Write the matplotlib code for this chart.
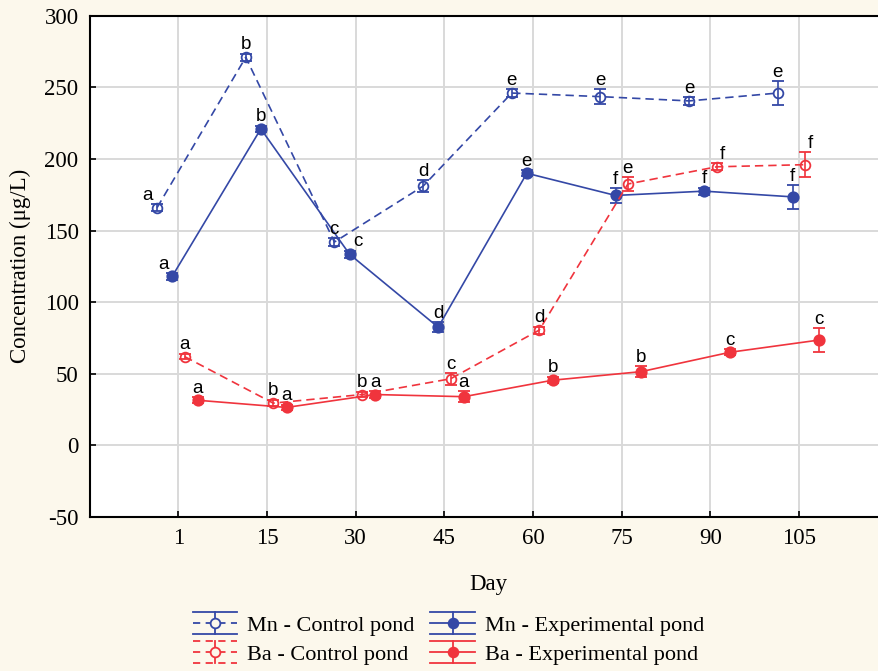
import matplotlib
matplotlib.use("Agg")
import matplotlib.pyplot as plt
from matplotlib.lines import Line2D
from matplotlib.legend_handler import HandlerBase
import numpy as np

plt.rcParams["axes.unicode_minus"] = False

days = ["1", "15", "30", "45", "60", "75", "90", "105"]

mn_ctrl = [166, 271, 142, 181, 246, 243.5, 240.5, 246]
mn_ctrl_err = [2.5, 2.5, 2.5, 4, 2.5, 5, 2.5, 8.5]
mn_ctrl_lbl = ["a", "b", "c", "d", "e", "e", "e", "e"]

mn_exp = [118, 221, 133.5, 82.5, 190, 174.5, 177.5, 173.5]
mn_exp_err = [2.5, 2, 2.5, 3.5, 2, 5, 2.5, 8.5]
mn_exp_lbl = ["a", "b", "c", "d", "e", "f", "f", "f"]

ba_ctrl = [62, 29.5, 35.5, 46.5, 80.5, 182.5, 194.5, 196]
ba_ctrl_err = [2, 2, 2, 4, 2.5, 5, 2.5, 8.5]
ba_ctrl_lbl = ["a", "b", "b", "c", "d", "e", "f", "f"]

ba_exp = [31.5, 26.5, 35.5, 34, 45.5, 51.5, 65, 73.5]
ba_exp_err = [2, 2, 2.5, 4, 2, 4, 2, 8.5]
ba_exp_lbl = ["a", "a", "a", "a", "b", "b", "c", "c"]

BLUE = "#3448A6"
RED = "#F0343D"
BG = "#FCF8EC"

fig = plt.figure(figsize=(8.79, 6.71), dpi=100, facecolor=BG)
ax = fig.add_axes([89.7/879, 154/671, 9*88.67/879, 501.3/671])
ax.set_facecolor("white")

x = np.arange(1, len(days) + 1)
series = [
    (mn_ctrl, mn_ctrl_err, mn_ctrl_lbl, BLUE, "--", "o", "none", -0.24, "Mn - Control pond", "-"),
    (mn_exp, mn_exp_err, mn_exp_lbl, BLUE, "-", "o", BLUE, -0.07, "Mn - Experimental pond", "-"),
    (ba_ctrl, ba_ctrl_err, ba_ctrl_lbl, RED, "--", "o", "none", 0.07, "Ba - Control pond", "--"),
    (ba_exp, ba_exp_err, ba_exp_lbl, RED, "-", "o", RED, 0.22, "Ba - Experimental pond", "-"),
]

# label horizontal nudges (points) per series
nudges = [
    [-7, 0, 0, 0, 0, 0, 0, 0],
    [-6, 0, 6, 0, 0, 0, 0, 0],
    [0, 0, 0, 0, 0, 0, 4, 4],
    [0, 0, 0, 0, 0, 0, 0, 0],
]

for (vals, errs, lbls, col, ls, mk, mfc, off, name, capls), nud in zip(series, nudges):
    xs = x + off
    ax.errorbar(xs, vals, yerr=errs, color=col, linestyle=ls, linewidth=1.2,
                marker=mk, markersize=7 if mfc == "none" else 7.5,
                markerfacecolor=mfc, markeredgecolor=col, markeredgewidth=1.3,
                capsize=4, elinewidth=1.2, capthick=1.2, zorder=3,
                dashes=(5, 3) if ls == "--" else (None, None))
    for xi, v, e, l, dx in zip(xs, vals, errs, lbls, nud):
        ax.annotate(l, xy=(xi, v + max(e, 2.5)), xytext=(dx, 3),
                    textcoords="offset points", ha="center", va="baseline",
                    fontsize=13.5, family="Liberation Sans", color="black", zorder=4)

ax.set_xlim(0, 9)
ax.set_ylim(-50, 300)
ax.set_xticks(x)
ax.set_xticklabels(days)
ax.set_yticks(np.arange(-50, 301, 50))
ax.grid(True, color="#D9D9D9", linewidth=1.4, zorder=0)
ax.set_axisbelow(True)
for s in ["left", "bottom", "top"]:
    ax.spines[s].set_linewidth(1.5)
    ax.spines[s].set_color("black")
ax.spines["right"].set_visible(False)
ax.tick_params(direction="in", length=4, width=1.2, labelsize=16.5, pad=8)
for t in ax.get_xticklabels() + ax.get_yticklabels():
    t.set_family("Liberation Serif")
ax.set_xlabel("Day", fontsize=16.5, family="Liberation Serif", labelpad=18)
ax.set_ylabel("Concentration (\u03bcg/L)", fontsize=16.5, family="Liberation Serif", labelpad=10)


class ErrHandler(HandlerBase):
    def __init__(self, color, ls, mfc, capls):
        super().__init__()
        self.color, self.ls, self.mfc, self.capls = color, ls, mfc, capls

    def create_artists(self, legend, orig_handle, xdescent, ydescent, width, height, fontsize, trans):
        cx = width / 2 - xdescent
        cy = height / 2 - ydescent
        h = 8
        d = dict(color=self.color, linewidth=1.3, transform=trans)
        dash = (4, 3)
        a = []
        l1 = Line2D([-xdescent, width - xdescent], [cy, cy], **d)
        if self.ls == "--":
            l1.set_dashes(dash)
        a.append(l1)
        for yy in (cy - h, cy + h):
            l = Line2D([-xdescent, width - xdescent], [yy, yy], **d)
            if self.capls == "--":
                l.set_dashes(dash)
            a.append(l)
        a.append(Line2D([cx, cx], [cy - h, cy + h], **d))
        a.append(Line2D([cx], [cy], marker="o", markersize=7, markerfacecolor=self.mfc if self.mfc != "none" else BG,
                        markeredgecolor=self.color, markeredgewidth=1.3, linestyle="none", transform=trans))
        return a


handles = []
labels = []
hmap = {}
for idx in (0, 2, 1, 3):
    vals, errs, lbls, col, ls, mk, mfc, off, name, capls = series[idx]
    h = Line2D([], [], color=col)
    handles.append(h)
    labels.append(name)
    hmap[h] = ErrHandler(col, ls, mfc, capls)

fig.legend(handles, labels, handler_map=hmap, loc="center",
           bbox_to_anchor=(448.5/879, 31/671), ncol=2, frameon=False,
           prop={"family": "Liberation Serif", "size": 16},
           handlelength=2.0, handletextpad=0.45, columnspacing=0.7, labelspacing=0.4)

fig.savefig("out.png", dpi=100, facecolor=BG)
